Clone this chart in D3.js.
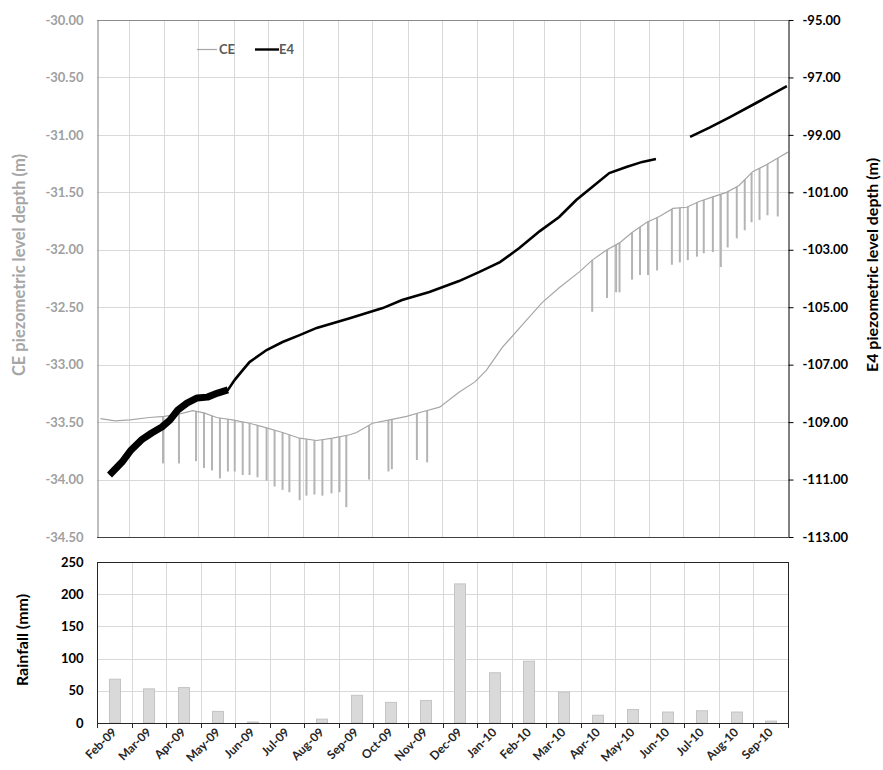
<!DOCTYPE html>
<html>
<head>
<meta charset="utf-8">
<script src="https://cdn.jsdelivr.net/npm/d3@7"></script>
<style>
  body { margin: 0; background: #fff; }
  svg { display: block; font-family: Lato, "Open Sans", sans-serif; font-weight: bold; }
</style>
</head>
<body>
<svg id="chart" width="883" height="770"></svg>
<script>
const W = 883;
const H = 770;
const parse = d3.timeParse("%Y-%m-%d");

// CE piezometer - background level (m)
const ceDates = ["2009-02-04","2009-02-17","2009-03-02","2009-03-19","2009-04-01","2009-04-14","2009-04-26","2009-05-06","2009-05-17","2009-05-31","2009-06-15","2009-06-30","2009-07-14","2009-07-29","2009-08-13","2009-08-27","2009-09-11","2009-09-17","2009-10-01","2009-10-16","2009-10-31","2009-11-14","2009-11-29","2009-12-16","2009-12-30","2010-01-09","2010-01-23","2010-02-10","2010-02-27","2010-03-14","2010-04-01","2010-04-12","2010-04-25","2010-05-06","2010-05-17","2010-05-30","2010-06-10","2010-06-22","2010-07-04","2010-07-15","2010-07-27","2010-08-08","2010-08-19","2010-08-31","2010-09-12","2010-09-24","2010-10-01"];
const ceLevels = [-33.47,-33.49,-33.48,-33.46,-33.45,-33.43,-33.40,-33.42,-33.46,-33.48,-33.51,-33.55,-33.59,-33.64,-33.66,-33.64,-33.61,-33.59,-33.51,-33.48,-33.45,-33.41,-33.37,-33.24,-33.15,-33.05,-32.85,-32.65,-32.46,-32.33,-32.19,-32.09,-32.00,-31.94,-31.85,-31.76,-31.71,-31.64,-31.63,-31.58,-31.54,-31.50,-31.44,-31.32,-31.26,-31.19,-31.15];

// CE pumping drawdowns (lowest level of each drop)
const ceDropDates = ["2009-03-31","2009-04-14","2009-04-29","2009-05-06","2009-05-13","2009-05-20","2009-05-27","2009-06-02","2009-06-09","2009-06-15","2009-06-22","2009-06-30","2009-07-07","2009-07-14","2009-07-20","2009-07-29","2009-08-04","2009-08-11","2009-08-18","2009-08-26","2009-09-02","2009-09-08","2009-09-28","2009-10-15","2009-10-18","2009-11-09","2009-11-18","2010-04-12","2010-04-25","2010-05-03","2010-05-06","2010-05-17","2010-05-24","2010-05-31","2010-06-08","2010-06-21","2010-06-28","2010-07-05","2010-07-13","2010-07-19","2010-07-27","2010-08-03","2010-08-09","2010-08-17","2010-08-24","2010-08-30","2010-09-06","2010-09-13","2010-09-22"];
const ceDropLevels = [-33.86,-33.86,-33.84,-33.90,-33.92,-33.99,-33.93,-33.93,-33.96,-33.96,-33.98,-34.01,-34.06,-34.09,-34.11,-34.18,-34.14,-34.13,-34.14,-34.12,-34.11,-34.24,-34.00,-33.93,-33.91,-33.83,-33.85,-32.54,-32.42,-32.37,-32.37,-32.26,-32.22,-32.22,-32.18,-32.13,-32.11,-32.09,-32.06,-32.03,-32.02,-32.15,-31.98,-31.90,-31.83,-31.76,-31.74,-31.70,-31.71];

// E4 piezometer (m), null = gap in the record
const e4Dates = ["2009-02-12","2009-02-23","2009-03-03","2009-03-12","2009-03-21","2009-03-30","2009-04-06","2009-04-13","2009-04-21","2009-04-30","2009-05-09","2009-05-18","2009-05-27","2009-06-02","2009-06-09","2009-06-15","2009-06-30","2009-07-14","2009-07-29","2009-08-13","2009-09-11","2009-10-10","2009-10-27","2009-11-20","2009-12-16","2010-01-03","2010-01-21","2010-02-07","2010-02-25","2010-03-14","2010-03-29","2010-04-12","2010-04-27","2010-05-12","2010-05-26","2010-06-07","2010-06-20","2010-07-07","2010-07-24","2010-08-11","2010-09-03","2010-09-30"];
const e4Levels = [-110.84,-110.39,-109.97,-109.62,-109.38,-109.17,-108.93,-108.58,-108.34,-108.16,-108.13,-107.99,-107.88,-107.53,-107.19,-106.91,-106.49,-106.21,-105.97,-105.72,-105.38,-105.03,-104.75,-104.47,-104.09,-103.77,-103.43,-102.94,-102.35,-101.86,-101.27,-100.81,-100.33,-100.12,-99.94,-99.84,null,-99.07,-98.75,-98.38,-97.89,-97.30];

// monthly rainfall (mm)
const months = ["Feb-09","Mar-09","Apr-09","May-09","Jun-09","Jul-09","Aug-09","Sep-09","Oct-09","Nov-09","Dec-09","Jan-10","Feb-10","Mar-10","Apr-10","May-10","Jun-10","Jul-10","Aug-10","Sep-10"];
const rainfall = [68,53,55,18,1.5,0,6,43,32,35,216,78,96,48,12,21,17,19,17,3];

const ceTicks = d3.range(-34.5, -29.99, 0.5);
const e4Ticks = d3.range(-113, -94.99, 2);
const rainTicks = [0, 50, 100, 150, 200, 250];

const ce = ceDates.map((d, i) => ({ date: parse(d), v: ceLevels[i] }));
const drops = ceDropDates.map((d, i) => ({ date: parse(d), v: ceDropLevels[i] }));
const e4 = e4Dates.map((d, i) => ({ date: parse(d), v: e4Levels[i] }));

const upper = { l: 97, r: 788, t: 20, b: 537 };
const lower = { l: 97, r: 788, t: 562, b: 723 };

const svg = d3.select("#chart");

// ---------- upper panel ----------
const x = d3.scaleTime()
  .domain([parse("2009-02-01"), parse("2010-10-01")])
  .range([upper.l, upper.r]);
const yCE = d3.scaleLinear().domain([-34.5, -30]).range([upper.b, upper.t]);
const yE4 = d3.scaleLinear().domain([-113, -95]).range([upper.b, upper.t]);

const grid = svg.append("g").attr("stroke", "#d9d9d9").attr("stroke-width", 1);
grid.selectAll(".hg")
  .data(ceTicks.slice(1, -1))
  .join("line")
  .attr("x1", upper.l).attr("x2", upper.r)
  .attr("y1", (d) => Math.round(yCE(d)) + 0.5)
  .attr("y2", (d) => Math.round(yCE(d)) + 0.5);
grid.selectAll(".vg")
  .data(x.ticks(d3.timeMonth.every(1)).slice(1, -1))
  .join("line")
  .attr("x1", (d) => Math.round(x(d)) + 0.5)
  .attr("x2", (d) => Math.round(x(d)) + 0.5)
  .attr("y1", upper.t).attr("y2", upper.b);

// top border
svg.append("line")
  .attr("x1", upper.l).attr("x2", upper.r)
  .attr("y1", upper.t + 0.5).attr("y2", upper.t + 0.5)
  .attr("stroke", "#8c8c8c");

// CE level with drawdown spikes
const ceBase = (date) => {
  const i = d3.bisector((d) => d.date).left(ce, date);
  const a = ce[Math.max(0, i - 1)], b = ce[Math.min(ce.length - 1, i)];
  if (a === b) return a.v;
  const t = (date - a.date) / (b.date - a.date);
  return a.v + (b.v - a.v) * t;
};
svg.append("g")
  .selectAll("line")
  .data(drops)
  .join("line")
  .attr("x1", (d) => x(d.date)).attr("x2", (d) => x(d.date))
  .attr("y1", (d) => yCE(ceBase(d.date)))
  .attr("y2", (d) => yCE(d.v))
  .attr("stroke", "#b4b4b4")
  .attr("stroke-width", 2);

svg.append("path")
  .datum(ce)
  .attr("fill", "none")
  .attr("stroke", "#a6a6a6")
  .attr("stroke-width", 1.2)
  .attr("d", d3.line().x((d) => x(d.date)).y((d) => yCE(d.v)));

// E4 level (noisy early record drawn heavier)
const e4Line = d3.line()
  .defined((d) => d.v != null)
  .x((d) => x(d.date))
  .y((d) => yE4(d.v));
svg.append("path")
  .datum(e4)
  .attr("fill", "none")
  .attr("stroke", "#000")
  .attr("stroke-width", 2.6)
  .attr("d", e4Line);
svg.append("path")
  .datum(e4.filter((d) => d.date <= parse("2009-05-27")))
  .attr("fill", "none")
  .attr("stroke", "#000")
  .attr("stroke-width", 7)
  .attr("stroke-linejoin", "round")
  .attr("d", e4Line);

// axes
const leftAxis = svg.append("g")
  .attr("transform", `translate(${upper.l + 0.5},0)`)
  .call(d3.axisLeft(yCE).tickValues(ceTicks).tickFormat((d) => d.toFixed(2)).tickSize(0).tickPadding(14));
leftAxis.select(".domain").attr("stroke", "#7f7f7f");
leftAxis.selectAll("text")
  .attr("fill", "#a0a0a0").attr("font-size", 13).attr("font-family", "Lato, sans-serif").attr("font-weight", "bold");

const rightAxis = svg.append("g")
  .attr("transform", `translate(${upper.r + 0.5},0)`)
  .call(d3.axisRight(yE4).tickValues(e4Ticks).tickFormat((d) => d.toFixed(2)).tickSize(5).tickSizeOuter(0).tickPadding(9));
rightAxis.select(".domain").attr("stroke", "#000");
rightAxis.selectAll("text")
  .attr("fill", "#000").attr("font-size", 13).attr("font-family", "Lato, sans-serif").attr("font-weight", "bold");

svg.append("line")
  .attr("x1", upper.l).attr("x2", upper.r)
  .attr("y1", upper.b + 0.5).attr("y2", upper.b + 0.5)
  .attr("stroke", "#404040");

// legend
svg.append("line").attr("x1", 197).attr("x2", 217).attr("y1", 49.5).attr("y2", 49.5)
  .attr("stroke", "#a6a6a6").attr("stroke-width", 1.2);
svg.append("text").attr("x", 219).attr("y", 54).attr("font-size", 13).attr("fill", "#595959").text("CE");
svg.append("line").attr("x1", 255).attr("x2", 279).attr("y1", 49.5).attr("y2", 49.5)
  .attr("stroke", "#000").attr("stroke-width", 2.4);
svg.append("text").attr("x", 279).attr("y", 54).attr("font-size", 13).attr("fill", "#595959").text("E4");

// axis titles
svg.append("text")
  .attr("transform", "translate(25,265) rotate(-90)")
  .attr("text-anchor", "middle").attr("font-size", 16.5).attr("fill", "#a6a6a6")
  .text("CE piezometric level depth (m)");
svg.append("text")
  .attr("transform", "translate(878,265) rotate(-90)")
  .attr("text-anchor", "middle").attr("font-size", 16).attr("fill", "#000")
  .text("E4 piezometric level depth (m)");

// ---------- lower panel: rainfall ----------
const xb = d3.scaleBand().domain(months).range([lower.l, lower.r]);
const yR = d3.scaleLinear().domain([0, 250]).range([lower.b, lower.t]);

const grid2 = svg.append("g").attr("stroke", "#d9d9d9").attr("stroke-width", 1);
grid2.selectAll(".hg")
  .data(rainTicks.slice(1, -1))
  .join("line")
  .attr("x1", lower.l).attr("x2", lower.r)
  .attr("y1", (d) => Math.round(yR(d)) + 0.5)
  .attr("y2", (d) => Math.round(yR(d)) + 0.5);
grid2.selectAll(".vg")
  .data(months.slice(1))
  .join("line")
  .attr("x1", (d) => Math.round(xb(d)) + 0.5)
  .attr("x2", (d) => Math.round(xb(d)) + 0.5)
  .attr("y1", lower.t).attr("y2", lower.b);

const bw = 11;
svg.append("g")
  .selectAll("rect")
  .data(months)
  .join("rect")
  .attr("x", (d) => Math.round(xb(d) + xb.bandwidth() / 2 - bw / 2) + 0.5)
  .attr("width", bw)
  .attr("y", (d, i) => yR(rainfall[i]))
  .attr("height", (d, i) => lower.b - yR(rainfall[i]))
  .attr("fill", "#d9d9d9")
  .attr("stroke", "#c4c4c4")
  .attr("stroke-width", 1);

svg.append("rect")
  .attr("x", lower.l + 0.5).attr("y", lower.t + 0.5)
  .attr("width", lower.r - lower.l).attr("height", lower.b - lower.t)
  .attr("fill", "none").attr("stroke", "#262626");

const rainAxis = svg.append("g")
  .attr("transform", `translate(${lower.l + 0.5},0)`)
  .call(d3.axisLeft(yR).tickValues(rainTicks).tickSize(0).tickPadding(14));
rainAxis.select(".domain").remove();
rainAxis.selectAll("text")
  .attr("fill", "#000").attr("font-size", 13).attr("font-family", "Lato, sans-serif").attr("font-weight", "bold");

// month ticks at band edges
svg.append("g")
  .selectAll("line")
  .data(d3.range(months.length + 1))
  .join("line")
  .attr("x1", (i) => Math.round(lower.l + i * xb.step()) + 0.5)
  .attr("x2", (i) => Math.round(lower.l + i * xb.step()) + 0.5)
  .attr("y1", lower.b).attr("y2", lower.b + 5)
  .attr("stroke", "#262626");

svg.append("g")
  .selectAll("text")
  .data(months)
  .join("text")
  .attr("transform", (d) => `translate(${xb(d) + xb.bandwidth() / 2 + 3},${lower.b + 10}) rotate(-45)`)
  .attr("text-anchor", "end")
  .attr("font-size", 12)
  .attr("fill", "#262626")
  .text((d) => d);

svg.append("text")
  .attr("transform", "translate(28,640) rotate(-90)")
  .attr("text-anchor", "middle").attr("font-size", 16).attr("fill", "#000")
  .text("Rainfall (mm)");
</script>
</body>
</html>
